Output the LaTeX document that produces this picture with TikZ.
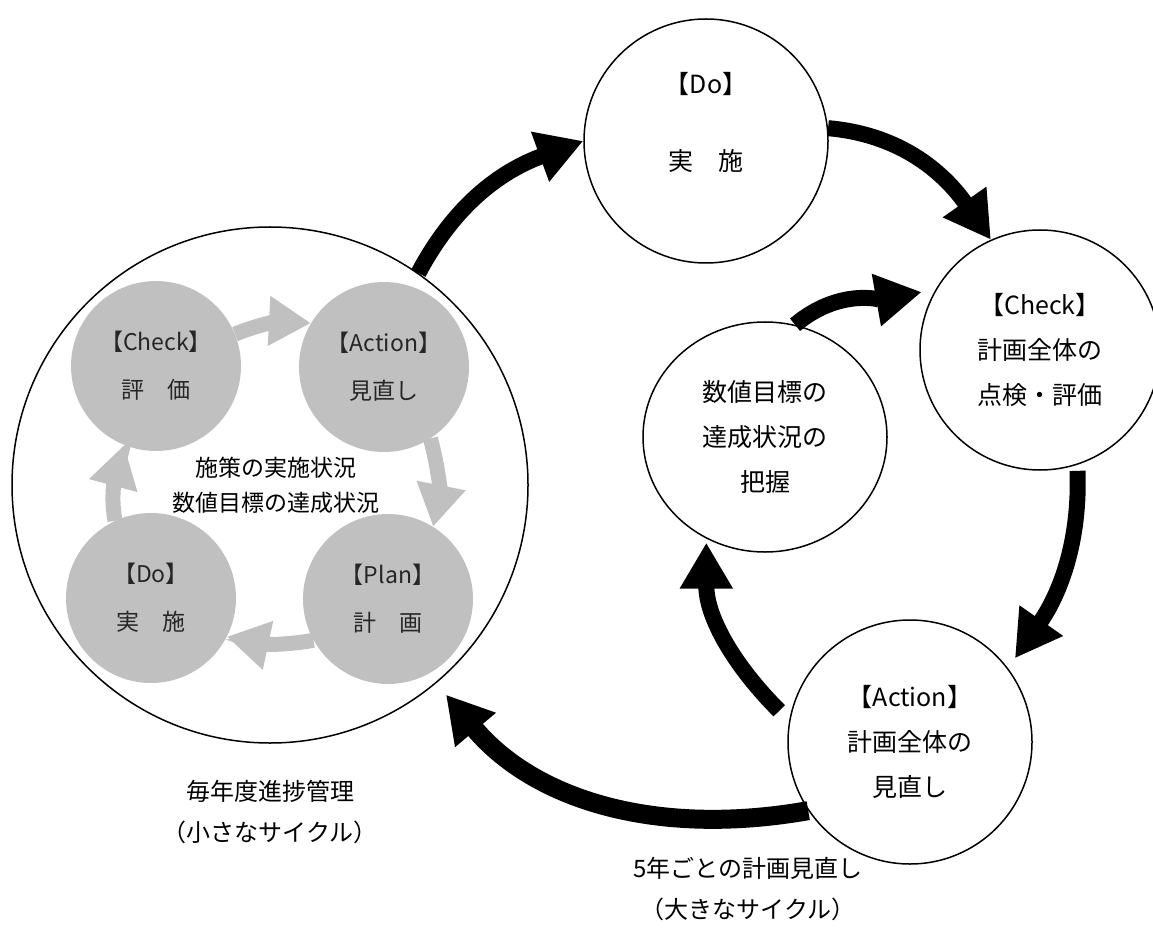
\documentclass[tikz,border=0pt]{standalone}
\usepackage{fontspec}
\setmainfont{Noto Sans CJK JP}
\usetikzlibrary{arrows.meta,shapes.geometric}
\definecolor{lgray}{RGB}{192,192,192}
\begin{document}
\begin{tikzpicture}[x=1pt,y=1pt,
  bigcircle/.style={circle,draw,line width=1.5pt,minimum size=516pt,inner sep=0pt},
  graycircle/.style={circle,fill=lgray,minimum size=170pt,inner sep=0pt,align=center,font=\fontsize{23}{48}\selectfont,text=black!85},
  wcircle/.style={circle,draw,line width=1.5pt,minimum size=244pt,inner sep=0pt,align=center,font=\fontsize{25}{45}\selectfont},
  blackarrow/.style={line width=16pt,-{Triangle[length=46pt,width=50pt]}},
  grayarrow/.style={line width=15pt,draw=lgray,-{Triangle[length=42pt,width=47pt]}},
  lbl/.style={align=center,font=\fontsize{24}{41}\selectfont}]
\useasboundingbox (0,0) rectangle (1153,-949);
% small cycle
\node[bigcircle] (big) at (270,-485) {};
\node[graycircle] (gcheck) at (156,-366) {【Check】\\評　価};
\node[graycircle] (gaction) at (384,-367) {【Action】\\見直し};
\node[graycircle] (gdo) at (151,-598) {【Do】\\実　施};
\node[graycircle] (gplan) at (388,-599) {【Plan】\\計　画};
\node[align=center,font=\fontsize{23}{35}\selectfont] (status) at (276,-485) {施策の実施状況\\数値目標の達成状況};
% big cycle
\node[wcircle,font=\fontsize{25}{38.5}\selectfont] (do) at (706,-141) {【Do】\\\mbox{}\\実　施\\\mbox{}};
\node[wcircle,minimum size=240pt] (check) at (1040,-350) {【Check】\\計画全体の\\点検・評価};
\node[wcircle,ellipse,minimum width=244pt,minimum height=230pt] (mid) at (765,-437) {数値目標の\\達成状況の\\把握};
\node[wcircle] (action) at (910,-742) {【Action】\\計画全体の\\見直し};
\node[lbl] (small) at (270,-812) {毎年度進捗管理\\（小さなサイクル）};
\node[lbl] (large) at (748,-889) {5年ごとの計画見直し\\（大きなサイクル）};
% gray arrows
\draw[grayarrow] (gcheck.22) to[out=22,in=177] (gaction.149);
\draw[grayarrow] (gaction.-57) to[out=-75,in=79] (gplan.58);
\draw[grayarrow] (gplan.209) to[out=190,in=-12] (gdo.-27);
\draw[grayarrow] (gdo.115) to[out=100,in=-105] (gcheck.248);
% black arrows
\draw[blackarrow] (big.55) to[out=62,in=200] (do.west);
\draw[blackarrow] (do.6) to[out=-5,in=125] (check.114);
\draw[blackarrow,shorten >=14pt] (mid.75) to[out=40,in=190] (check.150);
\draw[blackarrow,shorten <=6pt,shorten >=12pt] (check.288) to[out=-88,in=55] (action.37);
\draw[blackarrow,shorten <=14pt,shorten >=4pt] (action.170) to[out=135,in=-90] (mid.240);
\draw[blackarrow,line width=19pt,shorten >=15pt] (action.214) to[out=190,in=-50] (big.-50);
\end{tikzpicture}
\end{document}
